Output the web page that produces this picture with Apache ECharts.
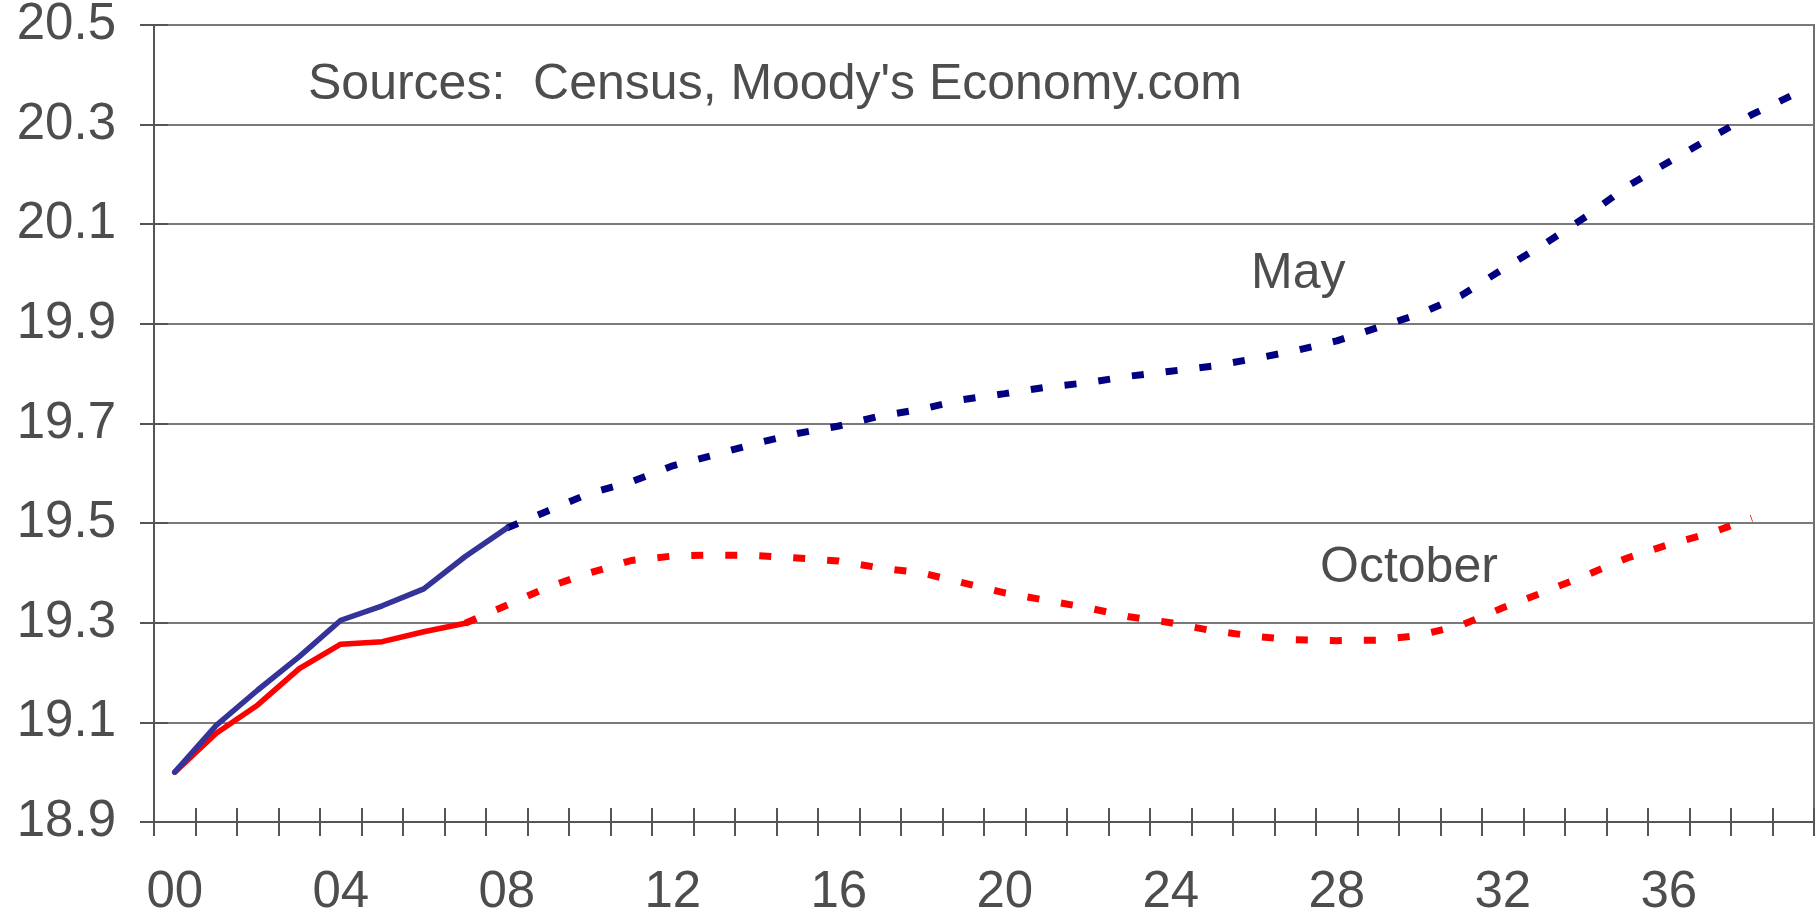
<!DOCTYPE html>
<html>
<head>
  <meta charset="UTF-8">
  <title>Population forecast</title>
  <script src="https://cdn.jsdelivr.net/npm/echarts@6/dist/echarts.min.js"></script>
  <style>
    html, body { margin: 0; padding: 0; background: #fff; }
    #main { width: 1820px; height: 911px; }
  </style>
</head>
<body>
<div id="main"></div>
<script type="text/javascript">
  // years 2000..2039, shown as two digits
  var years = ['00','01','02','03','04','05','06','07','08','09',
               '10','11','12','13','14','15','16','17','18','19',
               '20','21','22','23','24','25','26','27','28','29',
               '30','31','32','33','34','35','36','37','38','39'];

  // history (solid)
  var mayHistory = [19.00, 19.094, 19.165, 19.232, 19.305, 19.334, 19.368, 19.433, 19.49];
  var octHistory = [19.00, 19.078, 19.135, 19.208, 19.257, 19.262, 19.282, 19.299];

  // forecasts (dotted), May starts 2008, October starts 2007
  var mayForecast = [null, null, null, null, null, null, null, null,
    19.49, 19.525, 19.56, 19.583, 19.615, 19.637, 19.66, 19.68, 19.695, 19.715,
    19.729, 19.748, 19.76, 19.773, 19.782, 19.795, 19.805, 19.815, 19.83, 19.846,
    19.866, 19.893, 19.92, 19.957, 20.01, 20.06, 20.115, 20.176, 20.225, 20.273,
    20.32, 20.36];
  var octForecast = [null, null, null, null, null, null, null,
    19.299, 19.335, 19.372, 19.40, 19.425, 19.434, 19.436, 19.435, 19.43, 19.424,
    19.41, 19.40, 19.38, 19.36, 19.345, 19.33, 19.312, 19.30, 19.284, 19.273,
    19.266, 19.264, 19.265, 19.275, 19.295, 19.33, 19.362, 19.395, 19.43, 19.457,
    19.48, 19.51];

  var yMin = 18.9, yMax = 20.5, yStep = 0.2;

  var textColor = '#4d4d4d';
  var font = 'Liberation Sans, Arial, sans-serif';

  var myChart = echarts.init(document.getElementById('main'));
  var option = {
    animation: false,
    backgroundColor: '#fff',
    grid: {
      left: 154, right: 6, top: 25, bottom: 89,
      outerBoundsMode: 'none',
      containLabel: false,
      show: true,
      borderColor: '#6e6e6e',
      borderWidth: 2
    },
    xAxis: [{
      type: 'category',
      data: years,
      boundaryGap: true,
      axisLine: { lineStyle: { color: '#555', width: 2 } },
      axisTick: { show: true, interval: 0, length: 14, lineStyle: { color: '#555', width: 2 } },
      axisLabel: { interval: 3, color: textColor, fontSize: 51, fontFamily: font, margin: 45 },
      splitLine: { show: false }
    }, {
      // inner half of the crossing ticks
      type: 'category',
      data: years,
      position: 'bottom',
      boundaryGap: true,
      axisLine: { show: false },
      axisTick: { show: true, inside: true, interval: 0, length: 14, lineStyle: { color: '#555', width: 2 } },
      axisLabel: { show: false },
      splitLine: { show: false }
    }],
    yAxis: [{
      type: 'value',
      min: yMin, max: yMax, interval: yStep,
      axisLine: { show: true, lineStyle: { color: '#555', width: 2 } },
      axisTick: { show: true, length: 14, lineStyle: { color: '#555', width: 2 } },
      axisLabel: {
        color: textColor, fontSize: 51, fontFamily: font, margin: 38,
        padding: [7, 0, 0, 0],
        formatter: function (v) { return v.toFixed(1); }
      },
      splitLine: { show: true, lineStyle: { color: '#7a7a7a', width: 2 } }
    }, {
      type: 'value',
      min: yMin, max: yMax, interval: yStep,
      position: 'left',
      axisLine: { show: false },
      axisTick: { show: true, inside: true, length: 14, lineStyle: { color: '#555', width: 2 } },
      axisLabel: { show: false },
      splitLine: { show: false }
    }],
    series: [
      {
        name: 'May forecast', type: 'line', data: mayForecast, symbol: 'none',
        lineStyle: { color: '#000080', width: 7, type: [12, 22], cap: 'butt' }
      },
      {
        name: 'October forecast', type: 'line', data: octForecast, symbol: 'none',
        lineStyle: { color: '#ff0000', width: 7, type: [12, 22], cap: 'butt' }
      },
      {
        name: 'October', type: 'line', data: octHistory, symbol: 'none',
        lineStyle: { color: '#ff0000', width: 5.5, cap: 'round', join: 'round' }
      },
      {
        name: 'May', type: 'line', data: mayHistory, symbol: 'none',
        lineStyle: { color: '#333399', width: 5.5, cap: 'round', join: 'round' }
      }
    ],
    graphic: [
      {
        type: 'text', left: 308, top: 60,
        style: { text: "Sources:  Census, Moody's Economy.com", fill: textColor, fontSize: 50, fontFamily: font }
      },
      {
        type: 'text', left: 1251, top: 249,
        style: { text: 'May', fill: textColor, fontSize: 50, fontFamily: font }
      },
      {
        type: 'text', left: 1320, top: 543,
        style: { text: 'October', fill: textColor, fontSize: 50, fontFamily: font }
      }
    ]
  };
  myChart.setOption(option);
</script>
</body>
</html>
